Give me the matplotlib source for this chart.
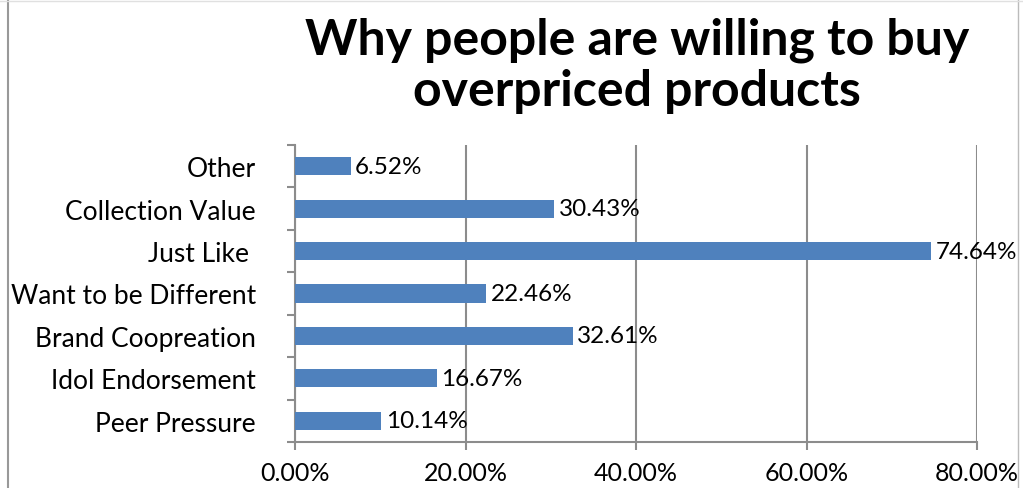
import matplotlib
matplotlib.use('Agg')
import matplotlib.pyplot as plt
from matplotlib.lines import Line2D

# Survey results (bottom to top as drawn)
categories = ['Peer Pressure', 'Idol Endorsement', 'Brand Coopreation',
              'Want to be Different', 'Just Like ', 'Collection Value', 'Other']
values = [10.14, 16.67, 32.61, 22.46, 74.64, 30.43, 6.52]
x_ticks = [0, 20, 40, 60, 80]
x_tick_labels = ['0.00%', '20.00%', '40.00%', '60.00%', '80.00%']

bar_color = '#4F81BD'
grid_color = '#8C8C8C'
font = 'Lato'

fig = plt.figure(figsize=(10.23, 4.89), dpi=100)
ax = fig.add_axes([295 / 1023, 1 - 443 / 489, (977 - 295) / 1023, (443 - 146) / 489])

y = list(range(len(categories)))
ax.barh(y, values, height=0.43, color=bar_color, zorder=3)

for yi, v in zip(y, values):
    ax.annotate(f'{v:.2f}%', xy=(v, yi), xytext=(3, 0), textcoords='offset points',
                va='center', ha='left', fontsize=17.5, family=font, zorder=4)

ax.set_xlim(0, 80)
ax.set_ylim(-0.5, len(categories) - 0.5)
ax.set_xticks(x_ticks)
ax.set_xticklabels(x_tick_labels, fontsize=18, family=font)
ax.set_yticks([i - 0.5 for i in range(len(categories) + 1)], minor=False)
ax.set_yticklabels([])
ax.set_yticks(y, minor=True)
ax.set_yticklabels(categories, minor=True, fontsize=19, family=font)
ax.tick_params(axis='y', which='minor', length=0, pad=28)
ax.tick_params(axis='y', which='major', length=6, color=grid_color, width=1.5)
ax.tick_params(axis='x', length=6, color=grid_color, width=1.5, pad=8)

ax.grid(axis='x', color=grid_color, linewidth=1.5, zorder=0)
for side in ['top', 'right']:
    ax.spines[side].set_visible(False)
for side in ['left', 'bottom']:
    ax.spines[side].set_color(grid_color)
    ax.spines[side].set_linewidth(1.5)

fig.text(637 / 1023, 1 - 66 / 489, 'Why people are willing to buy\noverpriced products',
         ha='center', va='center', fontsize=36, fontweight='bold', family=font,
         linespacing=1.15)

# chart frame edges (partly cropped in the original)
fig.add_artist(Line2D([8 / 1023, 8 / 1023], [0, 1], color='#999999', linewidth=1.5))
fig.add_artist(Line2D([1018 / 1023, 1018 / 1023], [0, 1], color='#BBBBBB', linewidth=1))
fig.add_artist(Line2D([0, 1], [1 - 2 / 489, 1 - 2 / 489], color='#E0E0E0', linewidth=1))

fig.savefig('out.png', dpi=100)
